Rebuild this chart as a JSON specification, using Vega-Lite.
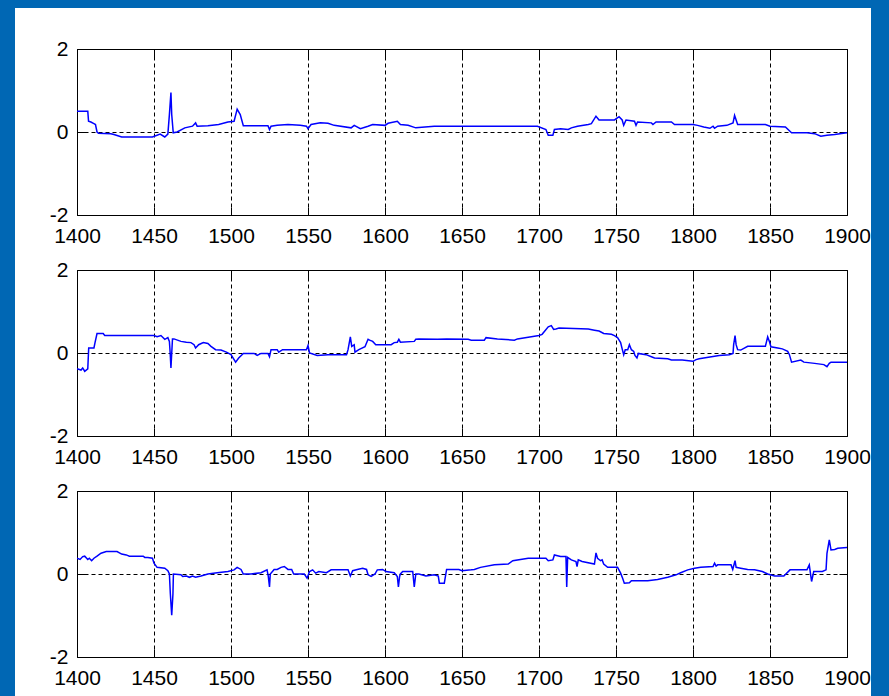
{
  "$schema": "https://vega.github.io/schema/vega-lite/v6.json",
  "padding": 0,
  "background": "white",
  "datasets": {
    "p1": [
      {"year":1400,"v":0.50},{"year":1407,"v":0.50},{"year":1407.5,"v":0.26},{"year":1409,"v":0.24},{"year":1411,"v":0.20},{"year":1412,"v":0.18},{"year":1413,"v":0.0},{"year":1414,"v":-0.03},{"year":1422,"v":-0.04},{"year":1424,"v":-0.06},{"year":1429,"v":-0.12},{"year":1449,"v":-0.12},{"year":1454,"v":-0.05},{"year":1457,"v":-0.12},{"year":1459,"v":-0.05},{"year":1460,"v":0.42},{"year":1461,"v":0.95},{"year":1461.5,"v":0.42},{"year":1462.5,"v":-0.02},{"year":1465,"v":0.0},{"year":1470,"v":0.10},{"year":1475,"v":0.14},{"year":1477,"v":0.22},{"year":1478,"v":0.14},{"year":1485,"v":0.15},{"year":1492,"v":0.18},{"year":1498,"v":0.24},{"year":1502,"v":0.26},{"year":1504,"v":0.55},{"year":1506,"v":0.42},{"year":1508,"v":0.15},{"year":1524,"v":0.15},{"year":1525,"v":0.06},{"year":1526,"v":0.14},{"year":1530,"v":0.16},{"year":1537,"v":0.18},{"year":1545,"v":0.16},{"year":1549,"v":0.14},{"year":1550,"v":0.08},{"year":1552,"v":0.18},{"year":1558,"v":0.22},{"year":1563,"v":0.21},{"year":1567,"v":0.16},{"year":1578,"v":0.10},{"year":1580,"v":0.16},{"year":1584,"v":0.08},{"year":1589,"v":0.14},{"year":1592,"v":0.18},{"year":1600,"v":0.16},{"year":1602,"v":0.21},{"year":1608,"v":0.26},{"year":1610,"v":0.18},{"year":1615,"v":0.16},{"year":1620,"v":0.10},{"year":1632,"v":0.14},{"year":1699,"v":0.14},{"year":1704.5,"v":0.06},{"year":1706,"v":-0.08},{"year":1709,"v":-0.08},{"year":1710,"v":0.06},{"year":1714,"v":0.08},{"year":1719,"v":0.06},{"year":1721,"v":0.10},{"year":1725,"v":0.14},{"year":1732,"v":0.18},{"year":1734,"v":0.20},{"year":1737,"v":0.38},{"year":1739,"v":0.29},{"year":1749,"v":0.29},{"year":1752,"v":0.37},{"year":1754,"v":0.29},{"year":1755,"v":0.16},{"year":1756.5,"v":0.29},{"year":1762,"v":0.26},{"year":1763,"v":0.16},{"year":1764,"v":0.24},{"year":1773,"v":0.22},{"year":1774,"v":0.18},{"year":1776,"v":0.24},{"year":1786,"v":0.24},{"year":1788,"v":0.18},{"year":1800,"v":0.18},{"year":1803,"v":0.16},{"year":1807,"v":0.12},{"year":1811,"v":0.09},{"year":1813,"v":0.14},{"year":1814,"v":0.09},{"year":1816,"v":0.14},{"year":1822,"v":0.16},{"year":1826,"v":0.22},{"year":1827,"v":0.40},{"year":1829,"v":0.18},{"year":1847,"v":0.18},{"year":1850,"v":0.14},{"year":1860,"v":0.12},{"year":1864,"v":-0.02},{"year":1874,"v":-0.02},{"year":1879,"v":-0.04},{"year":1883,"v":-0.10},{"year":1887,"v":-0.08},{"year":1892,"v":-0.06},{"year":1900,"v":-0.02}
    ],
    "p2": [
      {"year":1400,"v":-0.38},{"year":1402.6,"v":-0.41},{"year":1403.7,"v":-0.36},{"year":1405,"v":-0.44},{"year":1407,"v":-0.38},{"year":1407.6,"v":0.12},{"year":1411,"v":0.12},{"year":1411.7,"v":0.25},{"year":1413,"v":0.47},{"year":1417,"v":0.47},{"year":1418,"v":0.42},{"year":1450,"v":0.42},{"year":1452,"v":0.39},{"year":1454.5,"v":0.42},{"year":1457,"v":0.33},{"year":1459,"v":0.37},{"year":1460,"v":0.28},{"year":1460.5,"v":0.0},{"year":1461,"v":-0.36},{"year":1462,"v":0.34},{"year":1463,"v":0.34},{"year":1467.5,"v":0.28},{"year":1471,"v":0.26},{"year":1474,"v":0.25},{"year":1476,"v":0.20},{"year":1477,"v":0.12},{"year":1479,"v":0.20},{"year":1482,"v":0.25},{"year":1485,"v":0.23},{"year":1487,"v":0.16},{"year":1490,"v":0.08},{"year":1493.5,"v":0.07},{"year":1497,"v":0.02},{"year":1500,"v":-0.04},{"year":1503,"v":-0.22},{"year":1505,"v":-0.12},{"year":1508,"v":-0.01},{"year":1515,"v":-0.01},{"year":1517,"v":-0.06},{"year":1519.5,"v":-0.01},{"year":1524,"v":-0.01},{"year":1525,"v":-0.09},{"year":1526,"v":0.08},{"year":1530,"v":0.08},{"year":1531,"v":0.02},{"year":1533.5,"v":0.08},{"year":1549,"v":0.08},{"year":1550,"v":0.18},{"year":1551,"v":0.0},{"year":1556,"v":-0.06},{"year":1563,"v":-0.04},{"year":1575,"v":-0.04},{"year":1576,"v":0.08},{"year":1577.5,"v":0.39},{"year":1578.4,"v":0.16},{"year":1580,"v":0.20},{"year":1580.5,"v":0.02},{"year":1583,"v":0.08},{"year":1587,"v":0.15},{"year":1589,"v":0.33},{"year":1590,"v":0.31},{"year":1592,"v":0.28},{"year":1594,"v":0.20},{"year":1604,"v":0.20},{"year":1606,"v":0.25},{"year":1608,"v":0.26},{"year":1609,"v":0.33},{"year":1610,"v":0.26},{"year":1619,"v":0.28},{"year":1620,"v":0.33},{"year":1622,"v":0.34},{"year":1634,"v":0.33},{"year":1640,"v":0.34},{"year":1654,"v":0.33},{"year":1656,"v":0.31},{"year":1664.5,"v":0.31},{"year":1665.6,"v":0.37},{"year":1673,"v":0.34},{"year":1684,"v":0.31},{"year":1686,"v":0.34},{"year":1695,"v":0.39},{"year":1700,"v":0.42},{"year":1702,"v":0.45},{"year":1706,"v":0.63},{"year":1708,"v":0.66},{"year":1709.5,"v":0.57},{"year":1711,"v":0.58},{"year":1713,"v":0.60},{"year":1732,"v":0.58},{"year":1736,"v":0.55},{"year":1739,"v":0.53},{"year":1742,"v":0.47},{"year":1747,"v":0.45},{"year":1749,"v":0.42},{"year":1751,"v":0.37},{"year":1753,"v":0.25},{"year":1754,"v":0.10},{"year":1755,"v":-0.04},{"year":1756,"v":0.08},{"year":1757.6,"v":0.08},{"year":1758.7,"v":0.20},{"year":1760,"v":0.08},{"year":1761.5,"v":0.04},{"year":1762.3,"v":-0.06},{"year":1763.6,"v":-0.12},{"year":1764.5,"v":-0.01},{"year":1769.5,"v":-0.04},{"year":1773,"v":-0.09},{"year":1775,"v":-0.12},{"year":1783.6,"v":-0.14},{"year":1786,"v":-0.17},{"year":1793,"v":-0.17},{"year":1800,"v":-0.20},{"year":1802,"v":-0.16},{"year":1804,"v":-0.14},{"year":1807,"v":-0.12},{"year":1812,"v":-0.09},{"year":1817,"v":-0.06},{"year":1823.6,"v":-0.04},{"year":1826,"v":-0.01},{"year":1826.4,"v":0.20},{"year":1827.3,"v":0.42},{"year":1828,"v":0.20},{"year":1829,"v":0.08},{"year":1831,"v":0.07},{"year":1835.5,"v":0.16},{"year":1847,"v":0.16},{"year":1848.5,"v":0.39},{"year":1849.6,"v":0.28},{"year":1850.6,"v":0.15},{"year":1855,"v":0.12},{"year":1858,"v":0.10},{"year":1861.5,"v":0.04},{"year":1862.6,"v":-0.04},{"year":1864,"v":-0.22},{"year":1870,"v":-0.17},{"year":1872,"v":-0.22},{"year":1879,"v":-0.25},{"year":1885,"v":-0.28},{"year":1887,"v":-0.33},{"year":1888.5,"v":-0.25},{"year":1889.6,"v":-0.22},{"year":1900,"v":-0.22}
    ],
    "p3": [
      {"year":1400,"v":0.38},{"year":1402,"v":0.35},{"year":1403.7,"v":0.42},{"year":1405,"v":0.43},{"year":1407,"v":0.35},{"year":1408,"v":0.38},{"year":1409.5,"v":0.32},{"year":1411,"v":0.38},{"year":1413,"v":0.43},{"year":1415.6,"v":0.50},{"year":1419,"v":0.54},{"year":1426,"v":0.54},{"year":1429,"v":0.48},{"year":1432,"v":0.46},{"year":1434,"v":0.43},{"year":1443,"v":0.43},{"year":1444,"v":0.40},{"year":1446,"v":0.40},{"year":1449,"v":0.38},{"year":1450,"v":0.26},{"year":1452,"v":0.16},{"year":1457,"v":0.14},{"year":1459,"v":0.08},{"year":1460,"v":0.00},{"year":1460.6,"v":-0.47},{"year":1461.5,"v":-0.99},{"year":1462.3,"v":-0.48},{"year":1462.6,"v":0.00},{"year":1467.5,"v":-0.02},{"year":1468.6,"v":-0.06},{"year":1471,"v":-0.05},{"year":1473,"v":-0.08},{"year":1475,"v":-0.05},{"year":1477,"v":-0.08},{"year":1480.5,"v":-0.05},{"year":1485,"v":0.00},{"year":1491,"v":0.03},{"year":1498,"v":0.06},{"year":1502,"v":0.10},{"year":1504,"v":0.16},{"year":1506.5,"v":0.11},{"year":1508,"v":0.00},{"year":1513,"v":0.00},{"year":1519.5,"v":0.03},{"year":1523.4,"v":0.10},{"year":1524.2,"v":-0.05},{"year":1525,"v":-0.31},{"year":1525.5,"v":0.00},{"year":1528,"v":0.11},{"year":1530,"v":0.11},{"year":1532.5,"v":0.16},{"year":1534.6,"v":0.18},{"year":1537,"v":0.11},{"year":1539.4,"v":0.11},{"year":1540.7,"v":0.00},{"year":1547.6,"v":0.00},{"year":1549.4,"v":-0.10},{"year":1551,"v":0.06},{"year":1553,"v":0.10},{"year":1555,"v":0.02},{"year":1557,"v":0.06},{"year":1562,"v":0.03},{"year":1565,"v":0.10},{"year":1576,"v":0.10},{"year":1577.5,"v":-0.05},{"year":1579,"v":0.08},{"year":1582,"v":0.11},{"year":1585.5,"v":0.14},{"year":1588,"v":0.11},{"year":1589,"v":-0.02},{"year":1591,"v":-0.06},{"year":1593.5,"v":0.00},{"year":1595,"v":0.10},{"year":1598.5,"v":0.11},{"year":1600.6,"v":0.06},{"year":1606,"v":0.03},{"year":1608,"v":-0.06},{"year":1608.7,"v":-0.31},{"year":1609.5,"v":-0.06},{"year":1610,"v":0.00},{"year":1611.5,"v":0.06},{"year":1618,"v":0.06},{"year":1619,"v":-0.31},{"year":1620,"v":0.00},{"year":1622,"v":0.00},{"year":1626.6,"v":-0.05},{"year":1632,"v":-0.02},{"year":1634.6,"v":-0.05},{"year":1635.3,"v":-0.22},{"year":1638.5,"v":-0.22},{"year":1640,"v":0.11},{"year":1648,"v":0.11},{"year":1650,"v":0.08},{"year":1656,"v":0.10},{"year":1658,"v":0.11},{"year":1662,"v":0.16},{"year":1671,"v":0.22},{"year":1680,"v":0.24},{"year":1683,"v":0.32},{"year":1693,"v":0.38},{"year":1704.5,"v":0.38},{"year":1706,"v":0.32},{"year":1709,"v":0.34},{"year":1710,"v":0.46},{"year":1714,"v":0.42},{"year":1717.5,"v":0.42},{"year":1718,"v":-0.31},{"year":1718.6,"v":0.40},{"year":1721,"v":0.34},{"year":1724,"v":0.30},{"year":1724.7,"v":0.18},{"year":1725.5,"v":0.34},{"year":1728,"v":0.30},{"year":1736,"v":0.24},{"year":1737,"v":0.51},{"year":1738,"v":0.38},{"year":1740,"v":0.32},{"year":1741,"v":0.34},{"year":1742,"v":0.24},{"year":1744.6,"v":0.16},{"year":1751,"v":0.16},{"year":1753,"v":0.02},{"year":1754.3,"v":-0.10},{"year":1755.4,"v":-0.22},{"year":1758.7,"v":-0.21},{"year":1760,"v":-0.16},{"year":1770.6,"v":-0.16},{"year":1777,"v":-0.13},{"year":1783.6,"v":-0.08},{"year":1789,"v":-0.02},{"year":1792,"v":0.03},{"year":1796.6,"v":0.10},{"year":1801,"v":0.14},{"year":1805,"v":0.16},{"year":1813,"v":0.18},{"year":1814,"v":0.26},{"year":1815,"v":0.19},{"year":1816,"v":0.22},{"year":1824.7,"v":0.22},{"year":1825.8,"v":0.11},{"year":1827.3,"v":0.32},{"year":1828,"v":0.16},{"year":1831,"v":0.14},{"year":1835.5,"v":0.11},{"year":1840,"v":0.10},{"year":1845,"v":0.06},{"year":1848.5,"v":0.00},{"year":1853,"v":-0.05},{"year":1859,"v":-0.05},{"year":1863,"v":0.10},{"year":1874,"v":0.10},{"year":1875.5,"v":0.22},{"year":1877,"v":-0.18},{"year":1878.4,"v":0.06},{"year":1884,"v":0.06},{"year":1886.4,"v":0.10},{"year":1887,"v":0.50},{"year":1888.5,"v":0.82},{"year":1889.6,"v":0.58},{"year":1892,"v":0.59},{"year":1894,"v":0.62},{"year":1900,"v":0.64}
    ],
    "blank": [{}]
  },
  "spacing": 0,
  "vconcat": [
    {
      "width": 889, "height": 8,
      "view": {"stroke": null},
      "data": {"name": "blank"},
      "mark": {"type": "rect", "color": "#0067B4"},
      "encoding": {}
    },
    {
      "spacing": 0,
      "hconcat": [
        {
          "width": 15, "height": 688,
          "view": {"stroke": null},
          "data": {"name": "blank"},
          "mark": {"type": "rect", "color": "#0067B4"},
          "encoding": {}
        },
        {
          "spacing": 11,
          "vconcat": [
            {
              "width": 770, "height": 18,
              "view": {"stroke": null},
              "data": {"name": "blank"},
              "mark": {"type": "rect", "opacity": 0},
              "encoding": {}
            },
            {
              "width": 770, "height": 166,
              "data": {"name": "p1"},
              "resolve": {"axis": {"x": "independent", "y": "independent"}},
              "layer": [
                {
                  "mark": {"type": "line", "color": "#0000FF", "strokeWidth": 1.5, "clip": true},
                  "encoding": {
                    "x": {"field": "year", "type": "quantitative", "scale": {"domain": [1400, 1900], "nice": false, "zero": false}, "axis": {"orient": "bottom", "values": [1400,1450,1500,1550,1600,1650,1700,1750,1800,1850,1900], "title": null, "format": "d"}},
                    "y": {"field": "v", "type": "quantitative", "scale": {"domain": [-2, 2], "nice": false}, "axis": {"orient": "left", "values": [-2, 0, 2], "title": null, "labelExpr": "'' + datum.value"}}
                  }
                },
                {
                  "mark": {"type": "line", "opacity": 0},
                  "encoding": {
                    "x": {"field": "year", "type": "quantitative", "scale": {"domain": [1400, 1900], "nice": false, "zero": false}, "axis": {"orient": "top", "values": [1400,1450,1500,1550,1600,1650,1700,1750,1800,1850,1900], "title": null, "labels": false, "grid": false, "minExtent": 0}},
                    "y": {"field": "v", "type": "quantitative", "scale": {"domain": [-2, 2], "nice": false}, "axis": {"orient": "right", "values": [-2, 0, 2], "title": null, "labels": false, "grid": false, "minExtent": 0}}
                  }
                }
              ]
            },
            {
              "width": 770, "height": 166,
              "data": {"name": "p2"},
              "resolve": {"axis": {"x": "independent", "y": "independent"}},
              "layer": [
                {
                  "mark": {"type": "line", "color": "#0000FF", "strokeWidth": 1.5, "clip": true},
                  "encoding": {
                    "x": {"field": "year", "type": "quantitative", "scale": {"domain": [1400, 1900], "nice": false, "zero": false}, "axis": {"orient": "bottom", "values": [1400,1450,1500,1550,1600,1650,1700,1750,1800,1850,1900], "title": null, "format": "d"}},
                    "y": {"field": "v", "type": "quantitative", "scale": {"domain": [-2, 2], "nice": false}, "axis": {"orient": "left", "values": [-2, 0, 2], "title": null, "labelExpr": "'' + datum.value"}}
                  }
                },
                {
                  "mark": {"type": "line", "opacity": 0},
                  "encoding": {
                    "x": {"field": "year", "type": "quantitative", "scale": {"domain": [1400, 1900], "nice": false, "zero": false}, "axis": {"orient": "top", "values": [1400,1450,1500,1550,1600,1650,1700,1750,1800,1850,1900], "title": null, "labels": false, "grid": false, "minExtent": 0}},
                    "y": {"field": "v", "type": "quantitative", "scale": {"domain": [-2, 2], "nice": false}, "axis": {"orient": "right", "values": [-2, 0, 2], "title": null, "labels": false, "grid": false, "minExtent": 0}}
                  }
                }
              ]
            },
            {
              "width": 770, "height": 166,
              "data": {"name": "p3"},
              "resolve": {"axis": {"x": "independent", "y": "independent"}},
              "layer": [
                {
                  "mark": {"type": "line", "color": "#0000FF", "strokeWidth": 1.5, "clip": true},
                  "encoding": {
                    "x": {"field": "year", "type": "quantitative", "scale": {"domain": [1400, 1900], "nice": false, "zero": false}, "axis": {"orient": "bottom", "values": [1400,1450,1500,1550,1600,1650,1700,1750,1800,1850,1900], "title": null, "format": "d"}},
                    "y": {"field": "v", "type": "quantitative", "scale": {"domain": [-2, 2], "nice": false}, "axis": {"orient": "left", "values": [-2, 0, 2], "title": null, "labelExpr": "'' + datum.value"}}
                  }
                },
                {
                  "mark": {"type": "line", "opacity": 0},
                  "encoding": {
                    "x": {"field": "year", "type": "quantitative", "scale": {"domain": [1400, 1900], "nice": false, "zero": false}, "axis": {"orient": "top", "values": [1400,1450,1500,1550,1600,1650,1700,1750,1800,1850,1900], "title": null, "labels": false, "grid": false, "minExtent": 0}},
                    "y": {"field": "v", "type": "quantitative", "scale": {"domain": [-2, 2], "nice": false}, "axis": {"orient": "right", "values": [-2, 0, 2], "title": null, "labels": false, "grid": false, "minExtent": 0}}
                  }
                }
              ]
            }
          ]
        },
        {
          "width": 19, "height": 688,
          "view": {"stroke": null},
          "data": {"name": "blank"},
          "mark": {"type": "rect", "color": "#0067B4"},
          "encoding": {}
        }
      ]
    }
  ],
  "config": {
    "view": {"stroke": "black", "strokeWidth": 1},
    "axis": {
      "grid": true, "gridColor": "black", "gridDash": [4, 3], "gridOpacity": 1, "gridWidth": 1,
      "domain": false, "ticks": true, "tickSize": -8, "tickColor": "black", "tickWidth": 1,
      "labelFont": "Liberation Sans", "labelFontSize": 21, "labelColor": "black",
      "labelPadding": 17, "labelFlush": false, "labelOverlap": false
    },
    "axisLeft": {"minExtent": 61},
    "axisBottom": {"minExtent": 0, "labelPadding": 18}
  }
}
